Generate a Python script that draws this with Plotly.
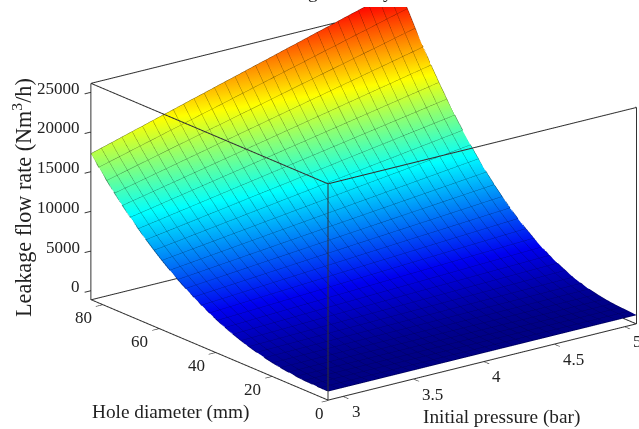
import plotly.graph_objects as go

W, H = 639, 429
# Axis ranges
x_range = [2.89, 5.08]
y_range = [0.0, 84.0]
z_box = [-1180.0, 26130.0]
z_scene_top = 29000.0

x_ticks = [3, 3.5, 4, 4.5, 5]
y_ticks = [0, 20, 40, 60, 80]
z_ticks = [0, 5000, 10000, 15000, 20000, 25000]

pressure = [2.89, 2.963, 3.036, 3.109, 3.182, 3.255, 3.328, 3.401, 3.474, 3.547, 3.62,
            3.693, 3.766, 3.839, 3.912, 3.985, 4.058, 4.131, 4.204, 4.277, 4.35,
            4.423, 4.496, 4.569, 4.642, 4.715, 4.788, 4.861, 4.934, 5.007, 5.08]
diameter = [0, 2.8, 5.6, 8.4, 11.2, 14, 16.8, 19.6, 22.4, 25.2, 28,
            30.8, 33.6, 36.4, 39.2, 42, 44.8, 47.6, 50.4, 53.2, 56,
            58.8, 61.6, 64.4, 67.2, 70, 72.8, 75.6, 78.4, 81.2, 84]
# Flow along the low-pressure edge, read from the silhouette
flow_low_edge = [0, 7, 34, 86, 167, 280, 426, 607, 825, 1082, 1378,
                 1718, 2097, 2520, 2989, 3503, 4063, 4672, 5328, 6031, 6787,
                 7595, 8453, 9362, 10326, 11342, 12413, 13541, 14718, 15956, 17250]
# Relative rise with pressure, read along the back edge
pressure_gain = [1.0, 1.022, 1.043, 1.065, 1.087, 1.108, 1.13, 1.152, 1.173, 1.195, 1.217,
                 1.238, 1.26, 1.282, 1.303, 1.325, 1.347, 1.368, 1.39, 1.412, 1.433,
                 1.455, 1.477, 1.498, 1.52, 1.542, 1.563, 1.585, 1.607, 1.628, 1.65]
flow = [[f * g for g in pressure_gain] for f in flow_low_edge]

jet = [[0, "#000084"], [0.11, "#0000f0"], [0.36, "#00ffff"], [0.61, "#ffff00"],
       [0.86, "#ff0000"], [1, "#800000"]]
jet_dark = [[0, "#00005c"], [0.11, "#000090"], [0.36, "#007c7c"], [0.61, "#7c7c00"],
            [0.86, "#7c0000"], [1, "#400000"]]
COLOR_TOP = 32000

FONT = "Liberation Serif"
INK = "#222222"

fig = go.Figure()
fig.add_trace(go.Surface(
    x=pressure, y=diameter, z=flow, colorscale=jet, cmin=0, cmax=COLOR_TOP, showscale=False,
    hoverinfo="skip",
    lighting=dict(ambient=1, diffuse=0, specular=0, roughness=1, fresnel=0),
))

# Mesh lines, darker than the surface they sit on
gx, gy, gz, gc = [], [], [], []
for j, d in enumerate(diameter):
    for i, p in enumerate(pressure):
        gx.append(p); gy.append(d); gz.append(flow[j][i]); gc.append(flow[j][i])
    gx.append(None); gy.append(None); gz.append(None); gc.append(0)
for i, p in enumerate(pressure):
    for j, d in enumerate(diameter):
        gx.append(p); gy.append(d); gz.append(flow[j][i]); gc.append(flow[j][i])
    gx.append(None); gy.append(None); gz.append(None); gc.append(0)
fig.add_trace(go.Scatter3d(x=gx, y=gy, z=gz, mode="lines", hoverinfo="skip", showlegend=False,
                           line=dict(color=gc, colorscale=jet_dark, cmin=0, cmax=COLOR_TOP, width=1.5)))

x0, x1 = x_range
y0, y1 = y_range
z0, z1 = z_box
# the edges on the lower bounds sit a hair inside them, so they are not clipped away
xi, yi, zi = x0 + 0.002, y0 + 0.08, z0 + 30
bx, by, bz = [], [], []
for a, b, c, d, e, f in [
    (xi, yi, zi, x1, yi, zi), (xi, yi, zi, xi, y1, zi),
    (x1, y0, zi, x1, y1, zi), (x1, y1, zi, x0, y1, zi),
    (x0, y0, z1, x1, y0, z1), (x1, y0, z1, x1, y1, z1), (x1, y1, z1, x0, y1, z1), (x0, y1, z1, x0, y0, z1),
    (x0, y0, z0, x0, y0, z1), (x1, y0, z0, x1, y0, z1), (x1, y1, z0, x1, y1, z1), (x0, y1, z0, x0, y1, z1),
]:
    bx += [a, d, None]
    by += [b, e, None]
    bz += [c, f, None]
fig.add_trace(go.Scatter3d(x=bx, y=by, z=bz, mode="lines", line=dict(color="#333333", width=2),
                           hoverinfo="skip", showlegend=False))

tick_font = dict(family=FONT, size=17, color=INK)
scene_notes = []
for v in z_ticks:
    scene_notes.append(dict(x=x0, y=y1, z=v, text=str(v), showarrow=False, xanchor="right", yanchor="middle",
                            xshift=-9, yshift=4, font=tick_font))
for v in y_ticks:
    scene_notes.append(dict(x=x0, y=v, z=z0, text=str(v), showarrow=False, xanchor="center", yanchor="middle",
                            xshift=-9 if v == 0 else -19, yshift=-13, font=tick_font))
for v in x_ticks:
    scene_notes.append(dict(x=v, y=y0, z=z0, text=str(v), showarrow=False, xanchor="left", yanchor="middle",
                            xshift=6, yshift=-15, font=tick_font))


def axis(rng, vals):
    return dict(range=rng, tickvals=vals, showticklabels=False, ticks="outside", ticklen=8, tickwidth=2,
                tickcolor="#333333", showline=False, showgrid=False,
                zeroline=False, showbackground=False, showspikes=False, title=dict(text=""))


eye_dir = (-0.5746, -0.7518, 0.3239)
r = 1.5
cen = (-0.1904, 0.096, -0.1149)
zoom = 1.84
title_font = dict(family=FONT, size=19.3, color=INK)
fig.update_layout(
    width=W, height=H, margin=dict(l=0, r=0, t=0, b=0), paper_bgcolor="white", showlegend=False,
    scene=dict(
        domain=dict(x=[0, 1], y=[0, 1 - 7 / H]),
        xaxis=axis(x_range, x_ticks), yaxis=axis(y_range, y_ticks),
        zaxis=axis([z0, z_scene_top], z_ticks),
        aspectmode="manual", aspectratio=dict(x=zoom, y=zoom * 1.0057, z=zoom * 0.652),
        camera=dict(projection=dict(type="orthographic"),
                    center=dict(x=cen[0], y=cen[1], z=cen[2]),
                    eye=dict(x=cen[0] + r * eye_dir[0], y=cen[1] + r * eye_dir[1], z=cen[2] + r * eye_dir[2]),
                    up=dict(x=0, y=0, z=1)),
        annotations=scene_notes,
    ),
    annotations=[
        dict(xref="paper", yref="paper", x=171 / W, y=1 - 412 / H, xanchor="center", yanchor="middle",
             text="Hole diameter (mm)", showarrow=False, font=title_font),
        dict(xref="paper", yref="paper", x=501 / W, y=1 - 417 / H, xanchor="center", yanchor="middle",
             text="Initial pressure (bar)", showarrow=False, font=title_font),
        dict(xref="paper", yref="paper", x=22 / W, y=1 - 198 / H, xanchor="center", yanchor="middle",
             text="Leakage flow rate (Nm<sup>3</sup>/h)", textangle=-90, showarrow=False,
             font=dict(family=FONT, size=22.2, color=INK)),
        dict(xref="paper", yref="paper", x=313 / W, y=1 - 4 / H, xanchor="center", yanchor="bottom",
             text="g", showarrow=False, font=title_font),
        dict(xref="paper", yref="paper", x=388 / W, y=1 - 4 / H, xanchor="center", yanchor="bottom",
             text="y", showarrow=False, font=title_font),
    ],
)
fig.write_html("out.html", config=dict(displayModeBar=False),
               post_script="document.body.style.margin='0';document.body.style.overflow='hidden';")
